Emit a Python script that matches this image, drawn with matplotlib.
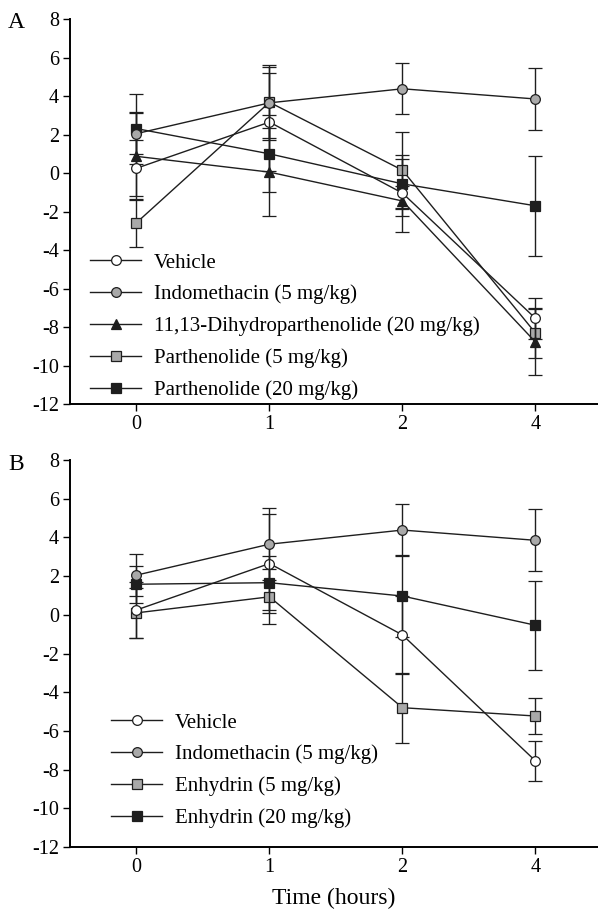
import matplotlib
matplotlib.use("Agg")
import matplotlib.pyplot as plt

plt.rcParams["font.family"] = ["Liberation Serif", "DejaVu Serif"]
plt.rcParams["axes.unicode_minus"] = False

# ---- DATA ----
hour_labels = ["0", "1", "2", "4"]
x_pos = [0, 1, 2, 3]

vehicle = [0.25, 2.65, -1.04, -7.55]
vehicle_err = [1.45, 2.55, 2.0, 1.05]
indo = [2.05, 3.65, 4.38, 3.85]
indo_err = [1.07, 1.85, 1.33, 1.6]

# panel A
dihydro = [0.87, 0.05, -1.45, -8.78]
dihydro_err = [2.28, 2.28, 0.78, 1.7]
parth5 = [-2.58, 3.68, 0.15, -8.31]
parth5_err = [1.24, 1.95, 1.97, 1.3]
parth20 = [2.31, 1.0, -0.56, -1.70]
parth20_err = [1.82, 2.0, 1.3, 2.6]

# panel B
enh5 = [0.1, 0.93, -4.8, -5.23]
enh5_err = [1.3, 1.42, 1.8, 0.93]
enh20 = [1.58, 1.66, 0.97, -0.54]
enh20_err = [0.95, 1.4, 2.1, 2.3]

GRAY = "#a9a9a9"
DARK = "#1e1e1e"


def draw_series(ax, y, err, marker, face, label, z, ms=7):
    h = ax.errorbar(x_pos, y, yerr=err, color=DARK, ecolor=DARK, lw=1.0,
                    elinewidth=1.0, capsize=5, capthick=1.0,
                    marker=marker, markersize=ms, markerfacecolor=face,
                    markeredgecolor=DARK, markeredgewidth=0.9,
                    label=label, zorder=z)
    # legend should show only the line + marker, no error bar
    return h.lines[0]


def style_axes(ax):
    ax.set_xlim(-0.5, 3.47)
    ax.set_ylim(-12, 8)
    ax.set_yticks(range(-12, 9, 2))
    ax.set_xticks(x_pos)
    ax.set_xticklabels(hour_labels)
    ax.spines["top"].set_visible(False)
    ax.spines["right"].set_visible(False)
    ax.spines["left"].set_linewidth(1.4)
    ax.spines["bottom"].set_linewidth(1.4)
    ax.tick_params(direction="out", length=5, width=1.0, labelsize=14.5, pad=3)


fig = plt.figure(figsize=(5.98, 9.10), dpi=100)

# -----------------------------
# Panel A
# -----------------------------
axA = fig.add_axes([0.117, 0.556, 0.883, 0.423])
p20 = draw_series(axA, parth20, parth20_err, "s", DARK, "Parthenolide (20 mg/kg)", 3)
p5 = draw_series(axA, parth5, parth5_err, "s", GRAY, "Parthenolide (5 mg/kg)", 4)
dh = draw_series(axA, dihydro, dihydro_err, "^", DARK, "11,13-Dihydroparthenolide (20 mg/kg)", 5)
vehA = draw_series(axA, vehicle, vehicle_err, "o", "white", "Vehicle", 6)
indA = draw_series(axA, indo, indo_err, "o", GRAY, "Indomethacin (5 mg/kg)", 7)
style_axes(axA)
axA.legend([vehA, indA, dh, p5, p20],
           ["Vehicle", "Indomethacin (5 mg/kg)", "11,13-Dihydroparthenolide (20 mg/kg)",
            "Parthenolide (5 mg/kg)", "Parthenolide (20 mg/kg)"],
           loc="lower left", bbox_to_anchor=(0.038, 0.011), frameon=False,
           fontsize=15, handlelength=2.45, handletextpad=0.6, labelspacing=0.58,
           borderpad=0, borderaxespad=0)
fig.text(0.027, 1 - 22 / 910, "A", fontsize=17, ha="center", va="center")

# -----------------------------
# Panel B
# -----------------------------
axB = fig.add_axes([0.117, 0.0692, 0.883, 0.4253])
e20 = draw_series(axB, enh20, enh20_err, "s", DARK, "Enhydrin (20 mg/kg)", 3)
e5 = draw_series(axB, enh5, enh5_err, "s", GRAY, "Enhydrin (5 mg/kg)", 4)
vehB = draw_series(axB, vehicle, vehicle_err, "o", "white", "Vehicle", 6)
indB = draw_series(axB, indo, indo_err, "o", GRAY, "Indomethacin (5 mg/kg)", 7)
style_axes(axB)
axB.set_xlabel("Time (hours)", fontsize=17, labelpad=8)
axB.legend([vehB, indB, e5, e20],
           ["Vehicle", "Indomethacin (5 mg/kg)", "Enhydrin (5 mg/kg)", "Enhydrin (20 mg/kg)"],
           loc="lower left", bbox_to_anchor=(0.078, 0.049), frameon=False,
           fontsize=15, handlelength=2.45, handletextpad=0.6, labelspacing=0.58,
           borderpad=0, borderaxespad=0)
fig.text(0.027, 1 - 465 / 910, "B", fontsize=17, ha="center", va="center")

fig.savefig("out.png", dpi=100)
